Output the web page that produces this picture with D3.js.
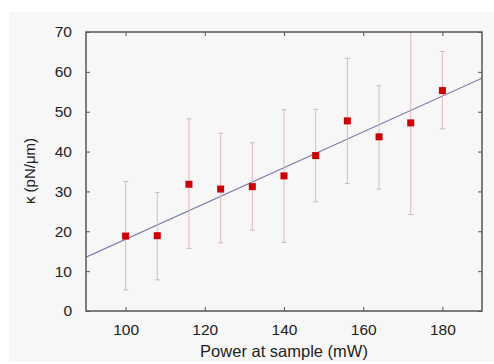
<!DOCTYPE html>
<html>
<head>
<meta charset="utf-8">
<script src="https://cdn.jsdelivr.net/npm/d3@7"></script>
<style>
  body { margin: 0; background: #fff; }
  svg { display: block; }
  text { font-family: "Liberation Sans", Arial, sans-serif; fill: #222; }
</style>
</head>
<body>
<div class="canvas"></div>
<script>
// data
const power = [100, 108, 116, 124, 132, 140, 148, 156, 164, 172, 180];
const kappa = [18.8, 18.9, 31.8, 30.6, 31.2, 33.9, 39.0, 47.7, 43.7, 47.2, 55.3];
const errLow = [5.3, 7.8, 15.7, 17.1, 20.3, 17.2, 27.4, 32.0, 30.6, 24.2, 45.7];
const errHigh = [32.5, 29.7, 48.2, 44.6, 42.2, 50.5, 50.6, 63.4, 56.5, 71.0, 65.1];
const fitSlope = 0.449, fitIntercept = -26.9;
const xTicks = [100, 120, 140, 160, 180];
const yTicks = [0, 10, 20, 30, 40, 50, 60, 70];

const W = 494, H = 364;
const margin = { top: 32, right: 12, bottom: 53, left: 86 };
const width = W - margin.left - margin.right;
const height = H - margin.top - margin.bottom;

const x = d3.scaleLinear().domain([90, 190]).range([0, width]);
const y = d3.scaleLinear().domain([0, 70]).range([height, 0]);

const root = d3.select(".canvas").append("svg")
    .attr("width", W).attr("height", H);

// light grey backdrop
root.append("rect")
    .attr("x", 9).attr("y", 12).attr("width", W - 9).attr("height", 350)
    .attr("fill", "#f7f7f7");

const svg = root.append("g")
    .attr("transform", `translate(${margin.left},${margin.top})`);

svg.append("clipPath").attr("id", "clip")
  .append("rect").attr("width", width).attr("height", height);

const plot = svg.append("g").attr("clip-path", "url(#clip)");

// fit line
plot.append("line")
    .attr("x1", x(90)).attr("y1", y(fitSlope * 90 + fitIntercept))
    .attr("x2", x(190)).attr("y2", y(fitSlope * 190 + fitIntercept))
    .attr("stroke", "#7a7aa8").attr("stroke-width", 1.1);

// error bars
const pts = power.map((p, i) => ({ p, k: kappa[i], lo: errLow[i], hi: errHigh[i] }));

plot.selectAll(".err").data(pts).join("line")
    .attr("x1", d => x(d.p)).attr("x2", d => x(d.p))
    .attr("y1", d => y(d.lo)).attr("y2", d => y(d.hi))
    .attr("stroke", "#dcbcc0").attr("stroke-width", 1);

plot.selectAll(".capLo").data(pts).join("line")
    .attr("x1", d => x(d.p) - 2.5).attr("x2", d => x(d.p) + 2.5)
    .attr("y1", d => y(d.lo)).attr("y2", d => y(d.lo))
    .attr("stroke", "#d4b8bc");

plot.selectAll(".capHi").data(pts).join("line")
    .attr("x1", d => x(d.p) - 2.5).attr("x2", d => x(d.p) + 2.5)
    .attr("y1", d => y(d.hi)).attr("y2", d => y(d.hi))
    .attr("stroke", "#d4b8bc");

// markers
svg.selectAll(".pt").data(pts).join("rect")
    .attr("x", d => x(d.p) - 3.5).attr("y", d => y(d.k) - 3.5)
    .attr("width", 7).attr("height", 7)
    .attr("fill", "#cc0000");

// axes: ticks inward on all four sides
const axisStyle = g => {
  g.select(".domain").remove();
  g.selectAll(".tick line").attr("stroke", "#555").attr("stroke-width", 1);
  g.selectAll(".tick text").attr("font-size", 15.5).attr("fill", "#222");
};

svg.append("g").attr("transform", `translate(0,${height})`)
    .call(d3.axisBottom(x).tickValues(xTicks).tickSizeInner(-4).tickPadding(13))
    .call(axisStyle);
svg.append("g")
    .call(d3.axisTop(x).tickValues(xTicks).tickSizeInner(-4).tickFormat(""))
    .call(axisStyle);
svg.append("g")
    .call(d3.axisLeft(y).tickValues(yTicks).tickSizeInner(-4).tickPadding(14))
    .call(axisStyle);
svg.append("g").attr("transform", `translate(${width},0)`)
    .call(d3.axisRight(y).tickValues(yTicks).tickSizeInner(-4).tickFormat(""))
    .call(axisStyle);

svg.selectAll(".tick text").attr("font-family", "'Liberation Sans', Arial, sans-serif");

// frame
svg.append("rect")
    .attr("width", width).attr("height", height)
    .attr("fill", "none").attr("stroke", "#555").attr("stroke-width", 1.5);

// labels
svg.append("text")
    .attr("x", width / 2).attr("y", height + 46)
    .attr("text-anchor", "middle").attr("font-size", 16.5)
    .text("Power at sample (mW)");

root.append("text")
    .attr("transform", `translate(35,${margin.top + 139}) rotate(-90)`)
    .attr("text-anchor", "middle").attr("font-size", 15)
    .text("κ (pN/μm)");
</script>
</body>
</html>
